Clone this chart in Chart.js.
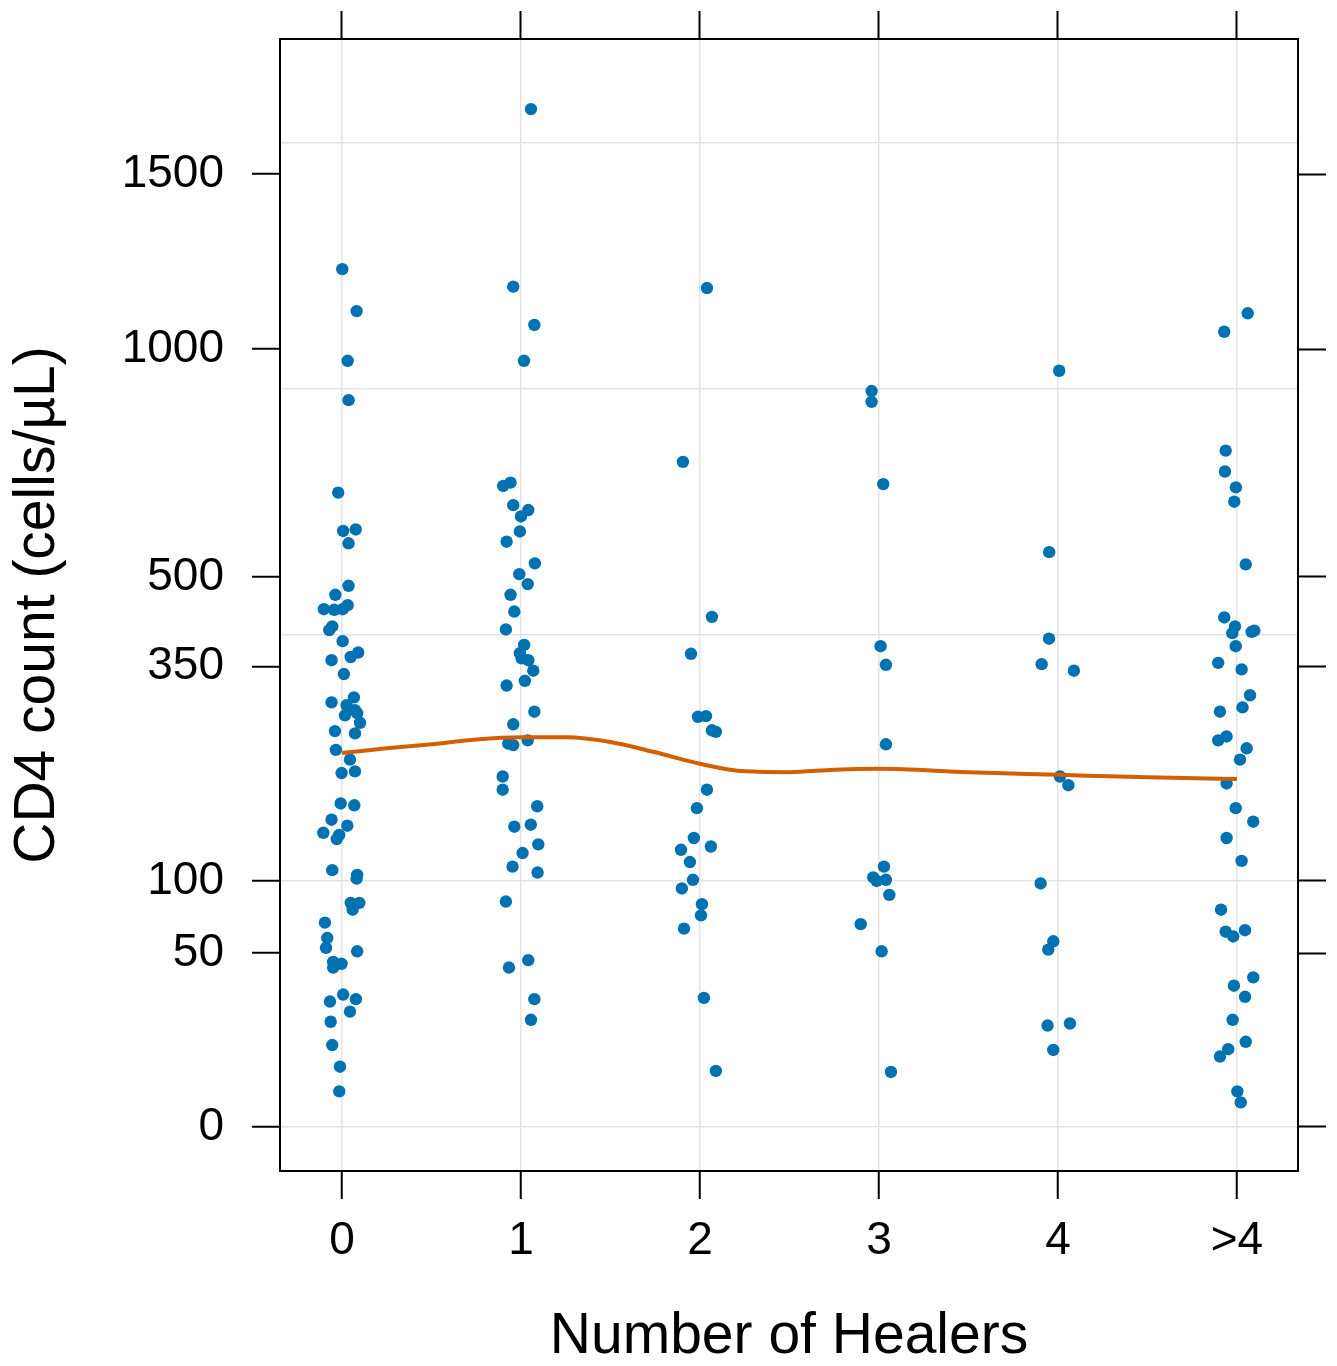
<!DOCTYPE html>
<html>
<head>
<meta charset="utf-8">
<script src="https://cdn.jsdelivr.net/npm/chart.js@4/dist/chart.umd.min.js"></script>
<style>
html, body { margin: 0; padding: 0; background: #ffffff; }
#wrap { width: 1337px; height: 1366px; }
</style>
</head>
<body>
<div id="wrap"><canvas id="c" width="1337" height="1366"></canvas></div>
<script>
// ---------- data ----------
const categories = ['0', '1', '2', '3', '4', '>4'];
const yTickValues = [0, 50, 100, 350, 500, 1000, 1500];
const yGridValues = [0, 100, 400, 900, 1600];

const cd4_0 = [1216, 1100, 970, 873, 665, 587, 590, 563, 484, 468, 443, 442, 443, 450, 408, 414, 390, 360, 365, 372, 339, 298, 305, 294, 287, 280, 283, 270, 259, 256, 235, 223, 207, 209, 173, 171, 156, 150, 143, 141, 137, 109, 105, 102, 83, 83, 78, 69, 59, 53, 51, 45, 44, 42, 26, 29, 27, 22, 18.3, 11.1, 6.0, 2.1];
const jitter_0 = [0.002, 0.082, 0.032, 0.037, -0.021, 0.007, 0.077, 0.037, 0.037, -0.037, -0.101, -0.043, 0.004, 0.032, -0.071, -0.054, 0.004, -0.058, 0.049, 0.091, 0.011, -0.058, 0.067, 0.026, 0.073, 0.017, 0.085, 0.101, -0.039, 0.073, -0.034, 0.045, -0.002, 0.073, -0.007, 0.069, -0.058, 0.030, -0.104, -0.015, -0.029, -0.054, 0.085, 0.082, 0.049, 0.097, 0.060, -0.095, -0.082, -0.089, 0.085, -0.049, -0.002, -0.049, -0.067, 0.007, 0.078, 0.045, -0.063, -0.054, -0.011, -0.015];

const cd4_1 = [1712, 1167, 1063, 970, 679, 686, 639, 616, 629, 586, 566, 525, 505, 487, 468, 439, 409, 384, 371, 363, 360, 344, 322, 329, 285, 268, 243, 241, 247, 203, 188, 170, 149, 151, 132, 124, 112, 107, 84, 46, 42, 27, 19];
const jitter_1 = [0.056, -0.043, 0.075, 0.017, -0.099, -0.058, -0.043, 0.000, 0.041, -0.006, -0.080, 0.078, -0.009, 0.038, -0.058, -0.037, -0.084, 0.018, -0.006, 0.004, 0.041, 0.069, -0.080, 0.022, 0.075, -0.043, -0.071, -0.043, 0.038, -0.102, -0.102, 0.091, -0.037, 0.055, 0.097, 0.009, -0.047, 0.093, -0.084, 0.041, -0.067, 0.075, 0.056];

const cd4_2 = [1163, 731, 430, 370, 278, 279, 260, 258, 188, 168, 138, 127, 130, 116, 101, 94, 82, 74, 65, 27.5, 5.2];
const jitter_2 = [0.039, -0.095, 0.067, -0.050, -0.011, 0.034, 0.067, 0.089, 0.039, -0.017, -0.034, -0.106, 0.061, -0.056, -0.039, -0.101, 0.011, 0.006, -0.089, 0.022, 0.089];

const cd4_3 = [895, 869, 683, 382, 353, 242, 112, 103, 100, 101, 89, 68, 51, 5];
const jitter_3 = [-0.041, -0.041, 0.024, 0.009, 0.039, 0.039, 0.028, -0.032, -0.013, 0.039, 0.058, -0.102, 0.015, 0.067];

const cd4_4 = [945, 546, 394, 354, 344, 203, 193, 98, 57, 52, 17, 17.7, 9.8];
const jitter_4 = [0.007, -0.049, -0.050, -0.091, 0.089, 0.011, 0.058, -0.097, -0.026, -0.054, -0.058, 0.067, -0.026];

const cd4_5 = [1094, 1045, 756, 710, 676, 646, 523, 429, 414, 403, 405, 407, 382, 356, 346, 308, 285, 291, 247, 252, 237, 223, 195, 168, 154, 138, 117, 78, 63, 60, 64, 37, 33, 28, 19, 12, 10, 8.2, 2.1, 1.0];
const jitter_5 = [0.060, -0.071, -0.063, -0.067, -0.006, -0.015, 0.049, -0.071, -0.011, -0.026, 0.082, 0.097, -0.007, -0.105, 0.026, 0.073, -0.095, 0.031, -0.105, -0.058, 0.054, 0.017, -0.058, -0.007, 0.091, -0.058, 0.026, -0.089, -0.063, -0.021, 0.045, 0.091, -0.017, 0.045, -0.024, 0.049, -0.049, -0.095, 0.002, 0.021];

const loessX = [0, 0.25, 0.5, 0.75, 1, 1.25, 1.5, 1.75, 2, 2.25, 2.5, 2.75, 3, 3.5, 4, 4.5, 5];
const loessY = [231, 237, 242, 248, 251, 251, 245, 232, 218, 209, 208, 211, 212, 208, 205, 202, 200];

// ---------- square-root scale ----------
const tf = v => Math.sign(v) * Math.sqrt(Math.abs(v));
const itf = t => Math.sign(t) * t * t;
class SqrtScale extends Chart.LinearScale {
  getPixelForValue(value) {
    if (value === null || value === undefined || isNaN(value)) return NaN;
    const a = tf(this.min), b = tf(this.max);
    return this.getPixelForDecimal((tf(value) - a) / (b - a));
  }
  getValueForPixel(pixel) {
    const a = tf(this.min), b = tf(this.max);
    return itf(a + this.getDecimalForPixel(pixel) * (b - a));
  }
}
SqrtScale.id = 'sqrt';
SqrtScale.defaults = {};
Chart.register(SqrtScale);

// ---------- build datasets ----------
const groups = [
  [cd4_0, jitter_0], [cd4_1, jitter_1], [cd4_2, jitter_2],
  [cd4_3, jitter_3], [cd4_4, jitter_4], [cd4_5, jitter_5]
];
const BLUE = '#0072B2';
const ORANGE = '#D55E00';
const datasets = [];
datasets.push({
  label: 'loess',
  data: loessX.map((x, i) => ({ x: x, y: loessY[i] })),
  showLine: true,
  pointRadius: 0,
  borderColor: ORANGE,
  borderWidth: 4,
  cubicInterpolationMode: 'monotone',
  fill: false,
  order: 0,
  xAxisID: 'x', yAxisID: 'y'
});
groups.forEach(([vals, jit], g) => {
  datasets.push({
    label: categories[g],
    data: vals.map((v, i) => ({ x: g + jit[i], y: v })),
    pointRadius: 6.2,
    pointBackgroundColor: BLUE,
    pointBorderWidth: 0,
    backgroundColor: BLUE,
    borderColor: BLUE,
    showLine: false,
    order: 1,
    xAxisID: 'x', yAxisID: 'y'
  });
});

// ---------- options ----------
const FONT = "'Liberation Sans', Arial, Helvetica, sans-serif";
const X_MIN = -0.346, X_MAX = 5.341;
const Y_MIN = -3.2, Y_MAX = 1956;
const tickFont = { family: FONT, size: 46, lineHeight: 1.2 };
const titleFont = { family: FONT, size: 57, lineHeight: 1 };
const allY = Array.from(new Set(yTickValues.concat(yGridValues))).sort((a, b) => a - b);
const catTicks = s => { s.ticks = categories.map((c, i) => ({ value: i })); };
const border = { display: true, color: '#000', width: 2 };
const noPad = s => { s.paddingTop = 0; s.paddingBottom = 0; s.paddingLeft = 0; s.paddingRight = 0; };

new Chart(document.getElementById('c'), {
  type: 'scatter',
  data: { datasets: datasets },
  options: {
    responsive: false,
    animation: false,
    layout: { padding: 0 },
    plugins: { legend: { display: false }, tooltip: { enabled: false } },
    scales: {
      x: {
        type: 'linear', position: 'bottom', min: X_MIN, max: X_MAX, bounds: 'data',
        afterBuildTicks: catTicks,
        ticks: { autoSkip: false, maxRotation: 0, padding: 15, color: '#000', font: tickFont,
                 callback: v => categories[v] },
        grid: { color: '#e4e4e4', lineWidth: 1.5, tickColor: '#000', tickWidth: 2, tickLength: 28 },
        border: border,
        title: { display: true, text: 'Number of Healers', color: '#000', font: titleFont,
                 padding: { top: 0, bottom: 0 } },
        afterFit: s => { s.height = 195; noPad(s); }
      },
      x2: {
        type: 'linear', position: 'top', min: X_MIN, max: X_MAX, bounds: 'data',
        afterBuildTicks: catTicks,
        ticks: { display: false },
        grid: { drawOnChartArea: false, tickColor: '#000', tickWidth: 2, tickLength: 28 },
        border: border,
        afterFit: s => { s.height = 39; noPad(s); }
      },
      y: {
        type: 'sqrt', position: 'left', min: Y_MIN, max: Y_MAX, bounds: 'data',
        afterBuildTicks: s => { s.ticks = allY.map(v => ({ value: v })); },
        ticks: { autoSkip: false, padding: 28, color: '#000', font: tickFont,
                 callback: v => (yTickValues.includes(v) ? String(v) : '') },
        grid: {
          color: ctx => (ctx.tick && yGridValues.includes(ctx.tick.value) ? '#e4e4e4' : 'rgba(0,0,0,0)'),
          lineWidth: 1.5,
          tickColor: ctx => (ctx.tick && yTickValues.includes(ctx.tick.value) ? '#000' : 'rgba(0,0,0,0)'),
          tickWidth: 2, tickLength: 28
        },
        border: border,
        title: { display: true, text: 'CD4 count (cells/µL)', color: '#000', font: titleFont,
                 padding: { top: 10, bottom: 0 } },
        afterFit: s => { s.width = 280; noPad(s); }
      },
      y2: {
        type: 'sqrt', position: 'right', min: Y_MIN, max: Y_MAX, bounds: 'data',
        afterBuildTicks: s => { s.ticks = yTickValues.map(v => ({ value: v })); },
        ticks: { display: false },
        grid: { drawOnChartArea: false, tickColor: '#000', tickWidth: 2, tickLength: 28 },
        border: border,
        afterFit: s => { s.width = 39; noPad(s); }
      }
    }
  }
});
</script>
</body>
</html>
